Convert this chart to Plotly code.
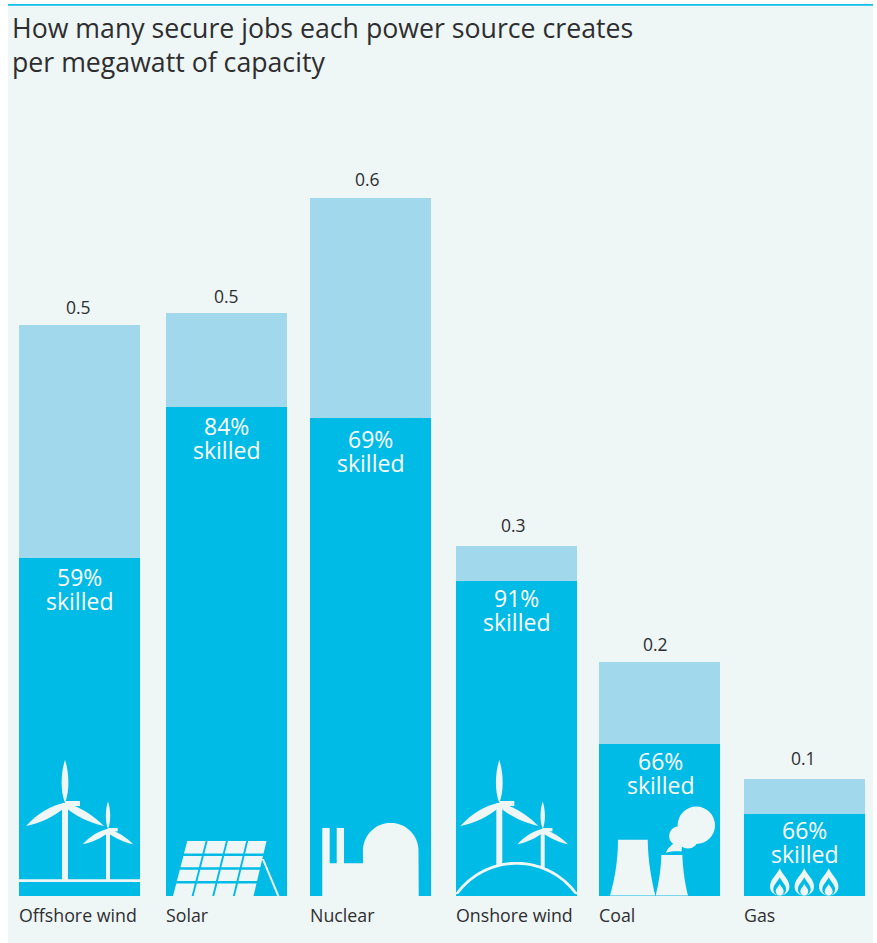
import numpy as np
import plotly.graph_objects as go

# ---- data ----
categories = ["Offshore wind", "Solar", "Nuclear", "Onshore wind", "Coal", "Gas"]
total_jobs = [0.491, 0.501, 0.600, 0.301, 0.201, 0.101]
skilled_jobs = [0.291, 0.4205, 0.411, 0.271, 0.131, 0.0705]
total_labels = ["0.5", "0.5", "0.6", "0.3", "0.2", "0.1"]
skilled_labels = ["59%", "84%", "69%", "91%", "66%", "66%"]
title_lines = ["How many secure jobs each power source creates", "per megawatt of capacity"]

# ---- layout (pixel positions of the page) ----
W, H = 877, 943
BASE = 896
PX_PER_UNIT = 1163
bar_left = [19, 166, 310, 456, 599, 744]
BAR_W = 121
total_dx = [-1.5, -0.5, -3.5, -3.5, -4.5, -1]
total_dy = [3.5, 3.5, 5.5, 6.5, 4.5, 6.5]
skilled_dx = [0, 0, 0, 0, 1, 0]
skilled_dy = [-1.5, -1.5, -2.5, 0.5, 0.5, 2.5]

DARK, LIGHT, PANEL, INK = "#00BBE6", "#A1D8EC", "#EEF6F6", "#2E2E30"
FONT = "Open Sans"
centers = [l + BAR_W / 2 for l in bar_left]
light_jobs = [t - s for t, s in zip(total_jobs, skilled_jobs)]


def X(x):
    return x / W


def Y(y):
    return (BASE - y) / BASE


def P(*cmds):
    """Build an SVG path in paper coordinates from (cmd, x, y, x, y...) tuples."""
    out = []
    for c in cmds:
        if c[0] == "Z":
            out.append("Z")
            continue
        v = c[1:]
        pts = " ".join(f"{X(v[i]):.5f},{Y(v[i + 1]):.5f}" for i in range(0, len(v), 2))
        out.append(c[0] + pts)
    return " ".join(out)


shapes = []


def add_path(path, color=PANEL):
    shapes.append(dict(type="path", xref="paper", yref="paper", path=path,
                       fillcolor=color, line=dict(width=0), layer="above"))


def add_poly(pts, color=PANEL):
    cmds = [("M", *pts[0])] + [("L", *p) for p in pts[1:]] + [("Z",)]
    add_path(P(*cmds), color)


def add_circle(cx, cy, r, color=PANEL):
    shapes.append(dict(type="circle", xref="paper", yref="paper",
                       x0=X(cx - r), x1=X(cx + r), y0=Y(cy + r), y1=Y(cy - r),
                       fillcolor=color, line=dict(width=0), layer="above"))


def add_rect(x0, y0, x1, y1, color=PANEL, layer="above"):
    shapes.append(dict(type="rect", xref="paper", yref="paper",
                       x0=X(x0), x1=X(x1), y0=Y(y1), y1=Y(y0),
                       fillcolor=color, line=dict(width=0), layer=layer))


def turbine(hx, hy, s, ground):
    # tower
    w = 3.0 * s if s > 0.8 else 2.0
    add_rect(hx - w, hy - 1, hx + w, ground)
    # blades
    add_path(P(("M", hx, hy - 1), ("C", hx - 5 * s, hy - 14 * s, hx - 4 * s, hy - 32 * s, hx, hy - 44 * s),
               ("C", hx + 4 * s, hy - 32 * s, hx + 5 * s, hy - 14 * s, hx, hy - 1), ("Z",)))
    add_path(P(("M", hx, hy - 1), ("C", hx - 14 * s, hy + 1 * s, hx - 28 * s, hy + 10 * s, hx - 39 * s, hy + 22 * s),
               ("C", hx - 25 * s, hy + 19 * s, hx - 10 * s, hy + 13 * s, hx + 1, hy + 2), ("Z",)))
    add_path(P(("M", hx, hy - 1), ("C", hx + 14 * s, hy + 2 * s, hx + 28 * s, hy + 11 * s, hx + 39 * s, hy + 22 * s),
               ("C", hx + 25 * s, hy + 19 * s, hx + 10 * s, hy + 12 * s, hx, hy + 3), ("Z",)))
    # nacelle
    shapes.append(dict(type="rect", xref="paper", yref="paper",
                       x0=X(hx), x1=X(hx + 15 * s), y0=Y(hy + 2 * s), y1=Y(hy - 3 * s),
                       fillcolor=PANEL, line=dict(width=0), layer="above"))


def arc(cx, cy, r, a0, a1, n=40):
    a = np.radians(np.linspace(a0, a1, n))
    return [(float(cx + r * np.cos(t)), float(cy + r * np.sin(t))) for t in a]


# panel, top rule
add_rect(8, 5, 873, 943, PANEL, "below")
add_rect(8, 4, 873, 5.7, "#10BFE8", "below")

# offshore wind
turbine(65, 804, 1.0, 880)
turbine(108, 830, 0.65, 880)
add_rect(19, 879.3, 140, 882)

# solar
TL, TR, BL, BR = (186.3, 841), (267.5, 841), (172, 896), (254.5, 896)


def solar_pt(u, v):
    lx = TL[0] + (BL[0] - TL[0]) * v
    rx = TR[0] + (BR[0] - TR[0]) * v
    return (lx + (rx - lx) * u, TL[1] + (BL[1] - TL[1]) * v)


gap_u, gap_v = 0.012, 0.022
for i in range(4):
    for j in range(4):
        u0, u1 = i / 4 + gap_u, (i + 1) / 4 - gap_u
        v0, v1 = j / 4 + gap_v, (j + 1) / 4 - gap_v
        if j == 0:
            v0 = 0
        if j == 3:
            v1 = 1
        add_poly([solar_pt(u0, v0), solar_pt(u1, v0), solar_pt(u1, v1), solar_pt(u0, v1)])
add_poly([(261.8, 859), (263.9, 859), (279.4, 896), (277.2, 896)])

# nuclear
dome = arc(390.7, 850.7, 27.8, 180, 360)
add_poly([(322.3, 896), (322.3, 828), (329.7, 828), (329.7, 863.3), (336.7, 863.3), (336.7, 828),
          (344, 828), (344, 863.3), (363, 863.3)] + dome + [(418.7, 896)])

# onshore wind
turbine(499.3, 804, 1.0, 866)
turbine(542.7, 830, 0.65, 869)
outer = arc(516.5, 936.9, 75.0, 214, 326)
inner = arc(516.5, 936.9, 72.2, 326, 214)
add_poly([p for p in outer + inner if p[1] <= 896])

# coal
add_path(P(("M", 618, 839.7), ("L", 647.7, 839.7), ("C", 648, 862, 652, 882, 655.3, 895.5),
           ("L", 610, 895.5), ("C", 614, 882, 618, 862, 618, 839.7), ("Z",)))
add_path(P(("M", 661.3, 855), ("L", 682.3, 855), ("C", 683, 870, 685, 884, 688, 895.5),
           ("L", 655.7, 895.5), ("C", 658.5, 884, 661, 870, 661.3, 855), ("Z",)))
add_circle(696.3, 825.3, 18.7)
add_circle(678.7, 836, 9.7)
add_circle(688, 838, 10.5)
add_path(P(("M", 666, 852.7), ("C", 667.5, 848, 671, 846, 674, 843), ("L", 682, 846), ("L", 681.5, 851.5),
           ("C", 676, 851, 671, 851.5, 666, 852.7), ("Z",)))

# gas flames
for cx in (779.7, 804.3, 828.7):
    for top, hw, col in ((868.3, 9.7, PANEL), (877.3, 6.4, DARK), (884, 4, PANEL)):
        add_path(P(("M", cx, top),
                   ("C", cx + hw * 0.35, top + (895 - top) * 0.28, cx + hw, top + (895 - top) * 0.42, cx + hw, top + (895 - top) * 0.68),
                   ("C", cx + hw, top + (895 - top) * 0.88, cx + hw * 0.55, 895.5, cx, 895.5),
                   ("C", cx - hw * 0.55, 895.5, cx - hw, top + (895 - top) * 0.88, cx - hw, top + (895 - top) * 0.68),
                   ("C", cx - hw, top + (895 - top) * 0.42, cx - hw * 0.35, top + (895 - top) * 0.28, cx, top), ("Z",)), col)

fig = go.Figure()
fig.add_bar(x=centers, y=skilled_jobs, width=BAR_W, marker=dict(color=DARK, line=dict(width=0)),
            hoverinfo="skip", showlegend=False)
fig.add_bar(x=centers, y=light_jobs, width=BAR_W, marker=dict(color=LIGHT, line=dict(width=0)),
            hoverinfo="skip", showlegend=False)

ann = []
for i, c in enumerate(categories):
    ann.append(dict(x=centers[i] + total_dx[i], y=total_jobs[i], text=total_labels[i], xref="x", yref="y",
                    yanchor="bottom", xanchor="center", showarrow=False, yshift=total_dy[i],
                    font=dict(size=17.5, color=INK, family=FONT)))
    ann.append(dict(x=centers[i] + skilled_dx[i], y=skilled_jobs[i], text=skilled_labels[i], xref="x", yref="y",
                    yanchor="top", xanchor="center", showarrow=False, yshift=skilled_dy[i],
                    font=dict(size=23, color="#FFFFFF", family=FONT)))
    ann.append(dict(x=centers[i] + skilled_dx[i], y=skilled_jobs[i], text="skilled", xref="x", yref="y",
                    yanchor="top", xanchor="center", showarrow=False, yshift=skilled_dy[i] - 24,
                    font=dict(size=23, color="#FFFFFF", family=FONT)))
    ann.append(dict(x=bar_left[i], y=0, text=c, xref="x", yref="y", yanchor="top", xanchor="left",
                    showarrow=False, yshift=-4.5, xshift=-2, font=dict(size=17.8, color=INK, family=FONT)))
for line, ypx in zip(title_lines, (27, 61.5)):
    ann.append(dict(x=X(10), y=Y(ypx), text=line, xref="paper", yref="paper", xanchor="left", yanchor="middle",
                    showarrow=False, font=dict(size=26.7, color=INK, family=FONT)))

fig.update_layout(
    width=W, height=H, barmode="stack", bargap=0,
    margin=dict(l=0, r=0, t=0, b=H - BASE, pad=0),
    paper_bgcolor="#FFFFFF", plot_bgcolor="rgba(0,0,0,0)",
    xaxis=dict(range=[0, W], visible=False, fixedrange=True),
    yaxis=dict(range=[0, BASE / PX_PER_UNIT], visible=False, fixedrange=True),
    shapes=shapes, annotations=ann, showlegend=False,
)
fig.write_html("out.html", config={"displayModeBar": False, "responsive": False},
               post_script="document.body.style.margin='0';document.body.style.overflow='hidden';")
